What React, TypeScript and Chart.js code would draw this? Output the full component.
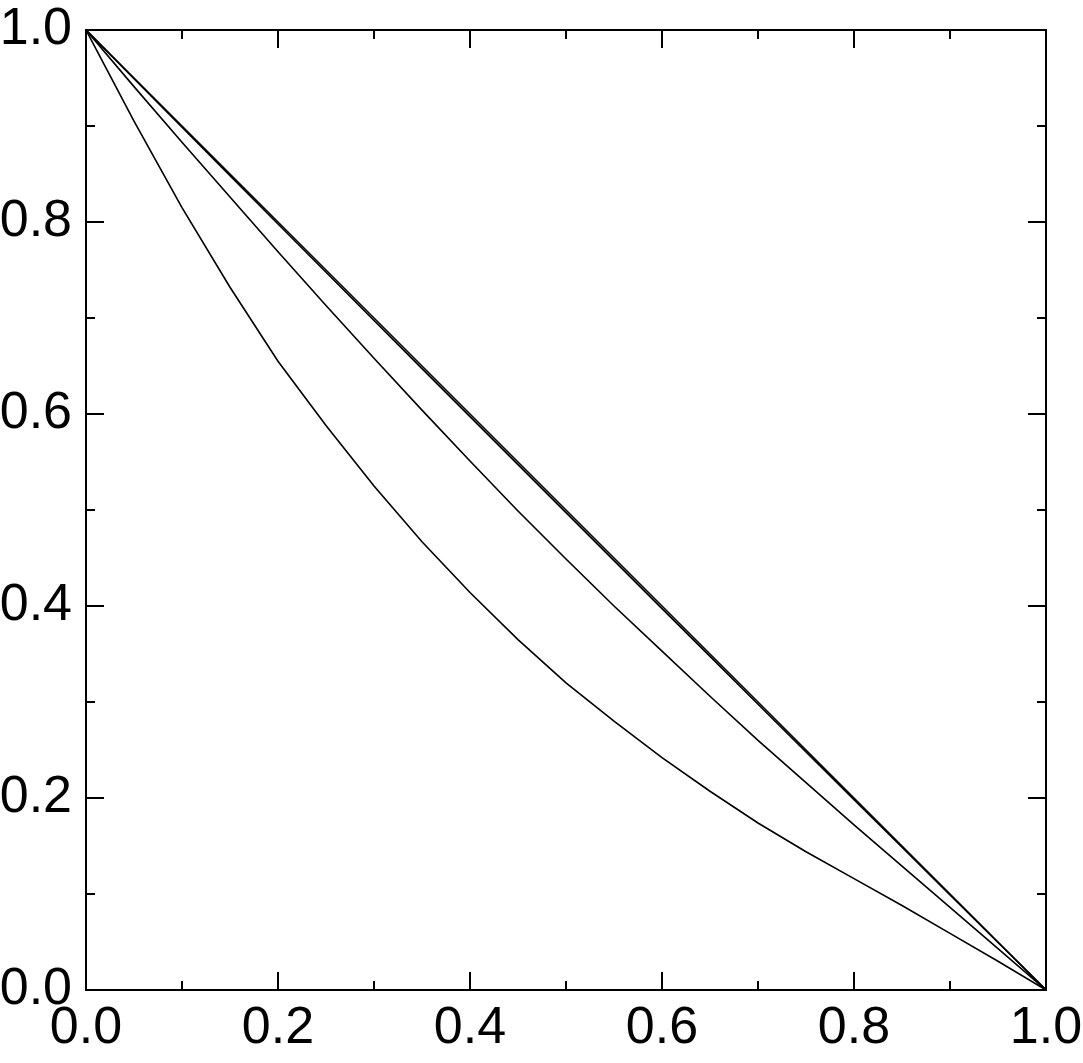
import React, { useEffect, useRef } from "react";
import { Chart, registerables } from "chart.js";

Chart.register(...registerables);

const xValues = [0, 0.05, 0.1, 0.15, 0.2, 0.25, 0.3, 0.35, 0.4, 0.45, 0.5, 0.55, 0.6, 0.65, 0.7, 0.75, 0.8, 0.85, 0.9, 0.95, 1.0];

const linearY = [1, 0.95, 0.9, 0.85, 0.8, 0.75, 0.7, 0.65, 0.6, 0.55, 0.5, 0.45, 0.4, 0.35, 0.3, 0.25, 0.2, 0.15, 0.1, 0.05, 0];
const nearLinearY = [1, 0.9493, 0.8987, 0.8483, 0.7979, 0.7476, 0.6974, 0.6473, 0.5972, 0.5472, 0.4972, 0.4472, 0.3973, 0.3475, 0.2977, 0.248, 0.1983, 0.1487, 0.0991, 0.0495, 0];
const midY = [1, 0.941, 0.883, 0.826, 0.769, 0.713, 0.658, 0.604, 0.551, 0.499, 0.449, 0.4, 0.353, 0.306, 0.26, 0.216, 0.172, 0.129, 0.086, 0.043, 0];
const lowY = [1, 0.905, 0.815, 0.732, 0.655, 0.588, 0.525, 0.467, 0.414, 0.365, 0.32, 0.28, 0.242, 0.207, 0.174, 0.144, 0.116, 0.088, 0.059, 0.03, 0];

const seriesList = [linearY, nearLinearY, midY, lowY];

const tickValues = [0, 0.1, 0.2, 0.3, 0.4, 0.5, 0.6, 0.7, 0.8, 0.9, 1.0];
const majorTickValues = [0, 0.2, 0.4, 0.6, 0.8, 1.0];

const FONT = { family: "'Liberation Sans', Arial, Helvetica, sans-serif", size: 52, lineHeight: 1 };

const frameTicksPlugin = {
  id: "frameTicks",
  afterDraw(chart: any) {
    const ctx = chart.ctx;
    const { left, right, top, bottom } = chart.chartArea;
    const xs = chart.scales.x;
    const ys = chart.scales.y;
    ctx.save();
    ctx.strokeStyle = "#000";
    ctx.lineWidth = 2;
    ctx.lineCap = "butt";
    ctx.strokeRect(left, top, right - left, bottom - top);
    ctx.beginPath();
    tickValues.forEach((v) => {
      const isMajor = majorTickValues.some((m) => Math.abs(m - v) < 1e-9);
      const len = isMajor ? 18 : 9;
      const px = xs.getPixelForValue(v);
      ctx.moveTo(px, bottom);
      ctx.lineTo(px, bottom - len);
      ctx.moveTo(px, top);
      ctx.lineTo(px, top + len);
      const py = ys.getPixelForValue(v);
      ctx.moveTo(left, py);
      ctx.lineTo(left + len, py);
      ctx.moveTo(right, py);
      ctx.lineTo(right - len, py);
    });
    ctx.stroke();
    ctx.restore();
  },
};

const zeroPadding = (scale: any) => {
  scale.paddingTop = 0;
  scale.paddingBottom = 0;
  scale.paddingLeft = 0;
  scale.paddingRight = 0;
};

export default function App() {
  const canvasRef = useRef<HTMLCanvasElement | null>(null);

  useEffect(() => {
    if (!canvasRef.current) return;
    const datasets = seriesList.map((ys) => ({
      data: xValues.map((x, i) => ({ x, y: ys[i] })),
      borderColor: "#000",
      borderWidth: 1.6,
      pointRadius: 0,
      showLine: true,
      fill: false,
      tension: 0,
    }));
    const chart = new Chart(canvasRef.current, {
      type: "scatter",
      data: { datasets },
      options: {
        animation: false,
        responsive: false,
        devicePixelRatio: 1,
        layout: { padding: { top: 30, right: 37, left: 0, bottom: 0 } },
        plugins: { legend: { display: false }, tooltip: { enabled: false } },
        scales: {
          x: {
            type: "linear",
            min: 0,
            max: 1,
            grid: { display: false, drawTicks: false },
            border: { display: false },
            ticks: {
              stepSize: 0.2,
              autoSkip: false,
              maxRotation: 0,
              color: "#000",
              font: FONT,
              padding: 13,
              callback: (v: any) => Number(v).toFixed(1),
            },
            afterFit: (scale: any) => {
              scale.height = 73;
              zeroPadding(scale);
            },
          },
          y: {
            type: "linear",
            min: 0,
            max: 1,
            grid: { display: false, drawTicks: false },
            border: { display: false },
            ticks: {
              stepSize: 0.2,
              autoSkip: false,
              color: "#000",
              font: FONT,
              padding: 14,
              callback: (v: any) => Number(v).toFixed(1),
            },
            afterFit: (scale: any) => {
              scale.width = 86;
              zeroPadding(scale);
            },
          },
        },
      },
      plugins: [frameTicksPlugin],
    } as any);
    return () => chart.destroy();
  }, []);

  return (
    <div style={{ position: "absolute", left: 0, top: 0, width: 1083, height: 1063, background: "#fff" }}>
      <canvas ref={canvasRef} width={1083} height={1063} style={{ display: "block" }} />
    </div>
  );
}
